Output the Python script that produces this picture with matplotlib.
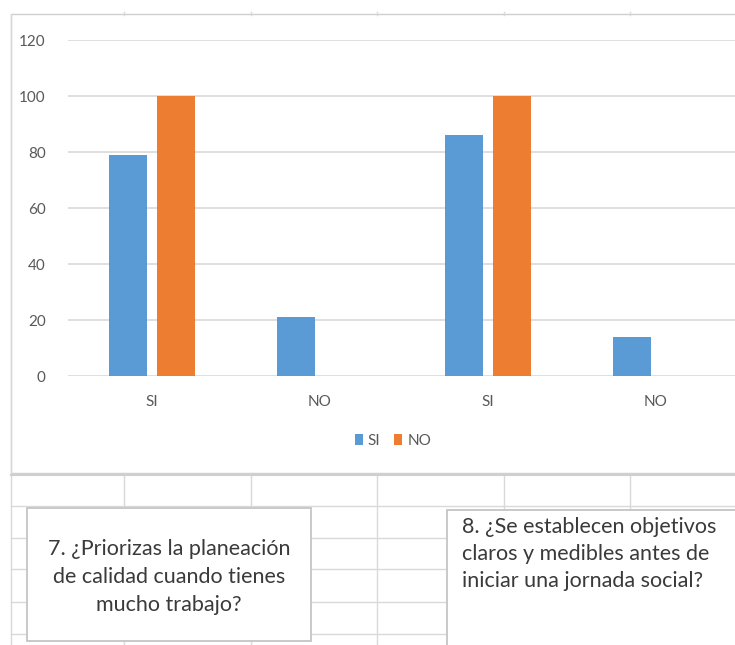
import numpy as np
import matplotlib.pyplot as plt
from matplotlib.patches import Rectangle
from matplotlib.lines import Line2D

plt.rcParams['font.family'] = ['Lato', 'DejaVu Sans']

# respuestas de las preguntas 7 y 8
categorias = ['SI', 'NO', 'SI', 'NO']
serie_si = [79, 21, 86, 14]
serie_no = [100, 0, 100, 0]
ticks_y = [0, 20, 40, 60, 80, 100, 120]
pregunta_7 = '7. ¿Priorizas la planeación\nde calidad cuando tienes\nmucho trabajo?'
pregunta_8 = '8. ¿Se establecen objetivos\nclaros y medibles antes de\niniciar una jornada social?'

W, H = 735, 645
fig = plt.figure(figsize=(W / 100, H / 100), dpi=100)
fig.patch.set_facecolor('white')


def fx(px):
    return px / W


def fy(py):
    return 1 - py / H


grid_col = '#d9d9d9'

# celdas de la hoja bajo el grafico
for y in [506, 538, 569, 602, 634]:
    fig.add_artist(Line2D([fx(11), 1], [fy(y), fy(y)], color=grid_col, lw=1.0))
for x in [124, 251, 377, 504, 630]:
    fig.add_artist(Line2D([fx(x), fx(x)], [fy(473), 0], color=grid_col, lw=1.0))
    fig.add_artist(Line2D([fx(x), fx(x)], [fy(12), fy(15)], color=grid_col, lw=1.0))
fig.add_artist(Line2D([fx(11), fx(11)], [fy(14), 0], color=grid_col, lw=1.0))

# marco del area del grafico
fig.add_artist(Rectangle((fx(11), fy(473)), fx(740) - fx(11), fy(14) - fy(473),
                         transform=fig.transFigure, facecolor='white',
                         edgecolor='#cfcfcf', lw=1.0, zorder=-1))
fig.add_artist(Line2D([fx(11), 1], [fy(474.5), fy(474.5)], color='#cfcfcf', lw=1.5))

ax = fig.add_axes([fx(68), fy(376), fx(740) - fx(68), fy(40) - fy(376)])
ax.set_zorder(1)
ax.set_facecolor('none')
x = np.arange(len(categorias))
ancho = 0.226
b1 = ax.bar(x - 0.14, serie_si, ancho, color='#5B9BD5', label='SI', zorder=3)
b2 = ax.bar(x + 0.14, serie_no, ancho, color='#ED7D31', label='NO', zorder=3)
ax.set_xlim(-0.5, 3.5)
ax.set_ylim(0, 120)
ax.set_yticks(ticks_y)
ax.set_xticks(x)
ax.set_xticklabels(categorias)
ax.yaxis.grid(True, color=grid_col, lw=1.2)
ax.set_axisbelow(True)
for s in ax.spines.values():
    s.set_visible(False)
ax.tick_params(axis='both', length=0, colors='#595959', labelsize=11)
ax.tick_params(axis='y', pad=16)
ax.tick_params(axis='x', pad=14)

fig.legend(handles=[b1, b2], labels=['SI', 'NO'], loc='center',
           bbox_to_anchor=(fx(393), fy(441)), ncol=2, frameon=False,
           handlelength=0.5, handleheight=0.7, handletextpad=0.35,
           columnspacing=0.9, fontsize=11, labelcolor='#595959')

# cuadros de texto con las preguntas
fig.add_artist(Rectangle((fx(27), fy(641)), fx(311) - fx(27), fy(508) - fy(641),
                         transform=fig.transFigure, facecolor='white',
                         edgecolor='#c0c0c0', lw=1.2, zorder=2))
fig.text(fx(169), fy(577), pregunta_7, ha='center', va='center', fontsize=15.5,
         color='#3a3a3a', linespacing=1.5, zorder=3)

fig.add_artist(Rectangle((fx(447), fy(660)), fx(760) - fx(447), fy(510) - fy(660),
                         transform=fig.transFigure, facecolor='white',
                         edgecolor='#c0c0c0', lw=1.2, zorder=2))
fig.text(fx(462), fy(517), pregunta_8, ha='left', va='top', fontsize=15.5,
         color='#3a3a3a', linespacing=1.45, zorder=3)

fig.savefig('out.png', dpi=100)
